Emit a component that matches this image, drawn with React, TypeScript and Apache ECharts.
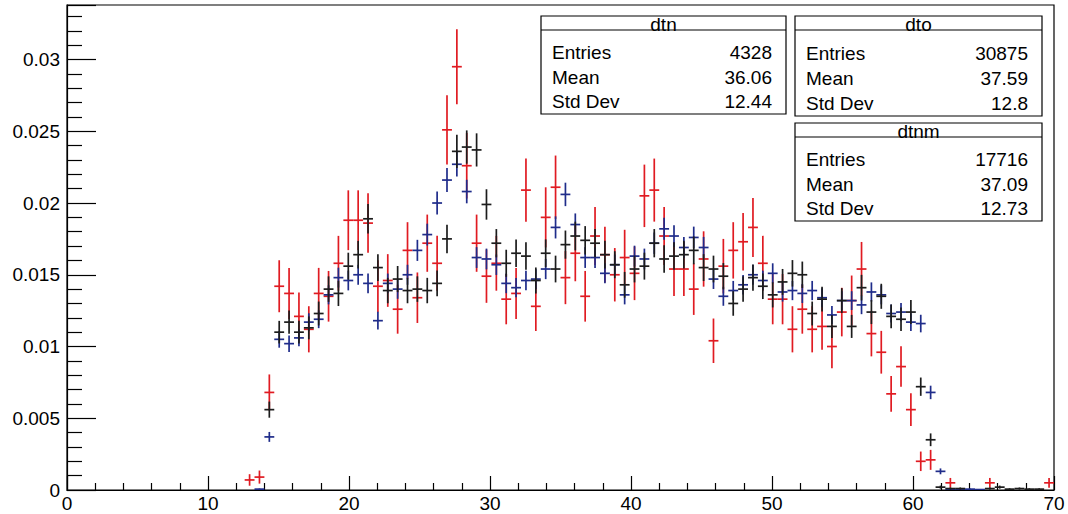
import React, { useEffect, useRef } from "react";
import * as echarts from "echarts";

// Histogram binning: 100 bins over [0, 70]; arrays below start at bin 18
const BIN_WIDTH = 0.7;
const FIRST_BIN = 18;

// dtn (red), bins 18..99
const dtnValues = [
  0.0007, 0.0009, 0.0068, 0.0142, 0.0137, 0.0121, 0.0112, 0.0137, 0.0135, 0.0158,
  0.0188, 0.0188, 0.0186, 0.0142, 0.0146, 0.0126, 0.0167, 0.0134, 0.0172, 0.0158,
  0.0251, 0.0295, 0.0226, 0.0172, 0.0149, 0.0158, 0.0133, 0.0137, 0.0209, 0.0128,
  0.0190, 0.0211, 0.0148, 0.0165, 0.0135, 0.0177, 0.0164, 0.0150, 0.0162, 0.0151,
  0.0205, 0.0209, 0.0177, 0.0154, 0.0154, 0.0140, 0.0161, 0.0104, 0.0156, 0.0167,
  0.0173, 0.0183, 0.0158, 0.0133, 0.0133, 0.0112, 0.0126, 0.0112, 0.0114, 0.0100,
  0.0124, 0.0132, 0.0154, 0.0109, 0.0096, 0.0067, 0.0086, 0.0056, 0.0020, 0.0021,
  0, 0.0005, 0, 0, 0, 0.0005, 0, 0, 0, 0,
  0, 0.0005,
];

// dto (blue), bins 18..99
const dtoValues = [
  0, 0.00006, 0.0037, 0.0105, 0.0102, 0.0106, 0.0117, 0.0119, 0.0136, 0.0148,
  0.0146, 0.0150, 0.0144, 0.0118, 0.0144, 0.0140, 0.0150, 0.0167, 0.0178, 0.0200,
  0.0216, 0.0227, 0.0208, 0.0162, 0.0161, 0.0157, 0.0144, 0.0141, 0.0146, 0.0147,
  0.0154, 0.0183, 0.0206, 0.0185, 0.0162, 0.0162, 0.0151, 0.0157, 0.0136, 0.0163,
  0.0161, 0.0172, 0.0182, 0.0177, 0.0169, 0.0176, 0.0169, 0.0147, 0.0135, 0.0139,
  0.0143, 0.0150, 0.0146, 0.0151, 0.0138, 0.0139, 0.0137, 0.0139, 0.0134, 0.0122,
  0.0132, 0.0132, 0.0129, 0.0138, 0.0136, 0.0123, 0.0124, 0.0117, 0.0116, 0.0068,
  0.0013, 0.00006, 0.00006, 0.00006, 0.00003, 0, 0, 0, 0, 0,
  0, 0,
];

// dtnm (black), bins 18..99
const dtnmValues = [
  0, 0, 0.0056, 0.0110, 0.0117, 0.0110, 0.0113, 0.0123, 0.0140, 0.0137,
  0.0156, 0.0164, 0.0189, 0.0155, 0.0139, 0.0147, 0.0139, 0.0140, 0.0139, 0.0144,
  0.0175, 0.0236, 0.0239, 0.0237, 0.0199, 0.0172, 0.0158, 0.0165, 0.0163, 0.0146,
  0.0165, 0.0154, 0.0171, 0.0177, 0.0174, 0.0172, 0.0164, 0.0157, 0.0143, 0.0154,
  0.0156, 0.0172, 0.0161, 0.0163, 0.0164, 0.0167, 0.0155, 0.0154, 0.0149, 0.0130,
  0.0140, 0.0148, 0.0142, 0.0136, 0.0145, 0.0151, 0.0150, 0.0123, 0.0133, 0.0114,
  0.0132, 0.0114, 0.0141, 0.0124, 0.0135, 0.0121, 0.0119, 0.0124, 0.0072, 0.0035,
  0.0002, 0.0001, 0.0001, 0, 0, 0.0001, 0.0002, 0.00006, 0.0001, 0.00006,
  0.00006, 0,
];

const statNames = ["dtn", "dto", "dtnm"];
const statEntries = ["4328", "30875", "17716"];
const statMeans = ["36.06", "37.59", "37.09"];
const statStdDevs = ["12.44", "12.8", "12.73"];
const entriesCount = [4328, 30875, 17716];

const xTicks = [0, 10, 20, 30, 40, 50, 60, 70];
const yTickStep = 0.005;

const FONT = "'Liberation Sans', Arial, Helvetica, sans-serif";

function buildData(values: number[], entries: number) {
  const out: number[][] = [];
  values.forEach((v, i) => {
    if (v <= 0) return;
    const center = (FIRST_BIN + i + 0.5) * BIN_WIDTH;
    out.push([center, v, Math.sqrt(v / entries)]);
  });
  return out;
}

function errSeries(name: string, data: number[][], color: string) {
  return {
    type: "custom",
    name,
    data,
    clip: true,
    renderItem: (params: any, api: any) => {
      const x = api.value(0);
      const y = api.value(1);
      const e = api.value(2);
      const top = api.coord([x, y + e]);
      const bot = api.coord([x, Math.max(y - e, 0)]);
      const l = api.coord([x - BIN_WIDTH / 2, y]);
      const r = api.coord([x + BIN_WIDTH / 2, y]);
      return {
        type: "group",
        children: [
          {
            type: "line",
            shape: { x1: top[0], y1: top[1], x2: bot[0], y2: bot[1] },
            style: { stroke: color, lineWidth: 1.7 },
          },
          {
            type: "line",
            shape: { x1: l[0], y1: l[1], x2: r[0], y2: r[1] },
            style: { stroke: color, lineWidth: 1.7 },
          },
        ],
      };
    },
  };
}

function statBox(idx: number, left: number, top: number, right: number, bottom: number) {
  const w = right - left;
  const h = bottom - top;
  const titleH = 14;
  const lineH = h / 4;
  const fs = 19;
  const children: any[] = [
    {
      type: "rect",
      shape: { x: left, y: top, width: w, height: h },
      style: { fill: "#fff", stroke: "#000", lineWidth: 1.2 },
    },
    {
      type: "line",
      shape: { x1: left, y1: top + titleH, x2: right, y2: top + titleH },
      style: { stroke: "#000", lineWidth: 1.2 },
    },
    {
      type: "text",
      x: left + w / 2,
      y: top + titleH / 2 + 1,
      style: {
        text: statNames[idx],
        fontSize: fs,
        fontFamily: FONT,
        fill: "#000",
        align: "center",
        verticalAlign: "middle",
      },
    },
  ];
  const labels = ["Entries", "Mean", "Std Dev"];
  const vals = [statEntries[idx], statMeans[idx], statStdDevs[idx]];
  for (let k = 0; k < 3; k++) {
    const cy = top + lineH * (k + 1.5);
    children.push({
      type: "text",
      x: left + 11,
      y: cy,
      style: { text: labels[k], fontSize: fs, fontFamily: FONT, fill: "#000", align: "left", verticalAlign: "middle" },
    });
    children.push({
      type: "text",
      x: right - 14,
      y: cy,
      style: { text: vals[k], fontSize: fs, fontFamily: FONT, fill: "#000", align: "right", verticalAlign: "middle" },
    });
  }
  return { type: "group", children };
}

export default function App() {
  const ref = useRef<HTMLDivElement>(null);
  useEffect(() => {
    if (!ref.current) return;
    document.body.style.margin = "0";
    const chart = echarts.init(ref.current, undefined, { renderer: "svg" });
    const axisLabelStyle = { color: "#000", fontSize: 19, fontFamily: FONT };
    chart.setOption({
      animation: false,
      backgroundColor: "#fff",
      grid: {
        left: 67,
        right: 14,
        top: 5,
        bottom: 24,
        show: true,
        borderColor: "#000",
        borderWidth: 1.2,
        backgroundColor: "transparent",
      },
      xAxis: {
        type: "value",
        min: xTicks[0],
        max: xTicks[xTicks.length - 1],
        interval: 10,
        axisLine: { show: true, onZero: false, lineStyle: { color: "#000", width: 1.2 } },
        axisTick: { show: true, inside: true, length: 14, lineStyle: { color: "#000", width: 1.2 } },
        minorTick: { show: true, splitNumber: 5, length: 7, lineStyle: { color: "#000", width: 1.2 } },
        splitLine: { show: false },
        axisLabel: { ...axisLabelStyle, margin: 4 },
      },
      yAxis: {
        type: "value",
        min: 0,
        max: 0.0338,
        interval: yTickStep,
        axisLine: { show: true, lineStyle: { color: "#000", width: 1.2 } },
        axisTick: { show: true, inside: true, length: 29, lineStyle: { color: "#000", width: 1.2 } },
        minorTick: { show: true, splitNumber: 5, length: 15, lineStyle: { color: "#000", width: 1.2 } },
        splitLine: { show: false },
        axisLabel: {
          ...axisLabelStyle,
          margin: 7,
          showMaxLabel: false,
          formatter: (v: number) => String(parseFloat(v.toFixed(4))),
        },
      },
      series: [
        errSeries("dtn", buildData(dtnValues, entriesCount[0]), "#e01b22"),
        errSeries("dto", buildData(dtoValues, entriesCount[1]), "#1f2c8a"),
        errSeries("dtnm", buildData(dtnmValues, entriesCount[2]), "#1c1c1c"),
      ],
      graphic: [
        statBox(0, 541, 16, 786, 114),
        statBox(1, 795, 16, 1042, 116),
        statBox(2, 795, 123, 1042, 221),
      ],
    });
    return () => chart.dispose();
  }, []);
  return (
    <div
      ref={ref}
      style={{ position: "fixed", left: 0, top: 0, width: 1068, height: 514, background: "#fff" }}
    />
  );
}
